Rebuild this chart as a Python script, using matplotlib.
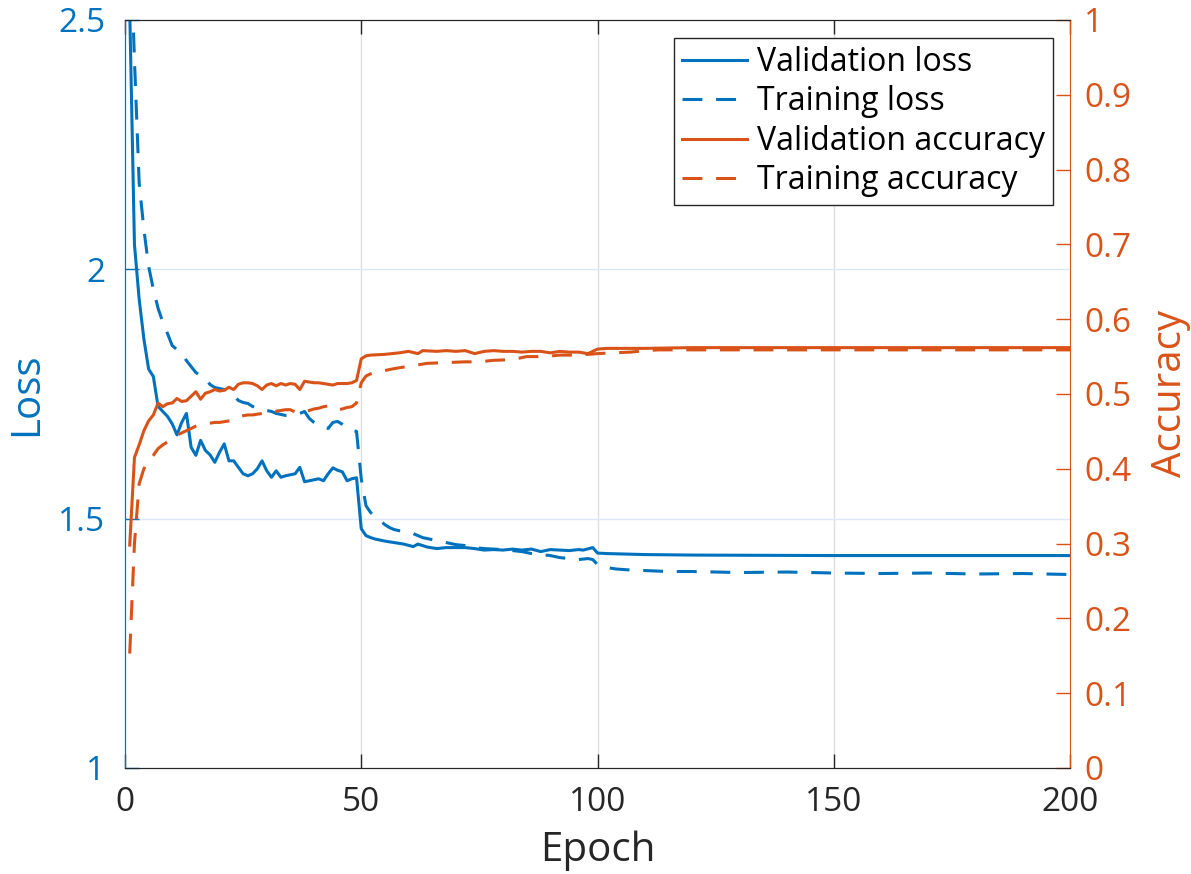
import numpy as np
import matplotlib
matplotlib.use("Agg")
import matplotlib.pyplot as plt
from matplotlib.lines import Line2D

plt.rcParams['font.family'] = ['Open Sans', 'DejaVu Sans']

BLUE = '#0072BD'
ORANGE = '#D95319'
DARK = '#262626'

# --- data (epoch, value) ---
val_loss_ep = list(range(1, 51)) + [51, 52, 53, 55, 57, 59, 61, 62, 64, 66, 68, 70, 72, 74, 76, 78, 80,
                                    82, 84, 86, 88, 90, 92, 94, 96, 97, 99, 100, 102, 106, 110, 120, 150, 200]
val_loss = [2.52, 2.05, 1.94, 1.86, 1.80, 1.785, 1.725, 1.715, 1.705, 1.69,
            1.668, 1.693, 1.711, 1.643, 1.627, 1.657, 1.637, 1.628, 1.613, 1.633,
            1.650, 1.616, 1.616, 1.603, 1.590, 1.586, 1.590, 1.600, 1.616, 1.596,
            1.583, 1.596, 1.583, 1.586, 1.588, 1.590, 1.603, 1.574, 1.576, 1.578,
            1.580, 1.576, 1.590, 1.602, 1.597, 1.594, 1.576, 1.580, 1.582, 1.480,
            1.466, 1.462, 1.459, 1.455, 1.452, 1.449, 1.444, 1.449, 1.443, 1.440,
            1.442, 1.442, 1.442, 1.440, 1.437, 1.438, 1.437, 1.439, 1.437, 1.439,
            1.434, 1.438, 1.437, 1.436, 1.438, 1.437, 1.442, 1.431, 1.430, 1.429,
            1.428, 1.427, 1.426, 1.426]

train_loss_ep = list(range(1, 51)) + [51, 52, 53, 54, 55, 56, 57, 58, 60, 61, 62, 63, 64, 66, 68, 70, 72,
                                      74, 76, 78, 80, 82, 84, 86, 88, 90, 92, 94, 96, 98, 99, 100, 102, 104,
                                      107, 110, 115, 120, 130, 140, 150, 160, 170, 180, 190, 200]
train_loss = [2.70, 2.42, 2.173, 2.08, 2.006, 1.960, 1.922, 1.894, 1.871, 1.847,
              1.839, 1.831, 1.817, 1.805, 1.793, 1.787, 1.781, 1.769, 1.763, 1.761,
              1.759, 1.757, 1.747, 1.737, 1.733, 1.731, 1.725, 1.721, 1.719, 1.717,
              1.715, 1.711, 1.709, 1.707, 1.707, 1.709, 1.711, 1.715, 1.701, 1.693,
              1.687, 1.683, 1.681, 1.693, 1.695, 1.689, 1.681, 1.677, 1.675, 1.580,
              1.526, 1.512, 1.504, 1.496, 1.488, 1.482, 1.478, 1.476, 1.474, 1.470,
              1.466, 1.462, 1.460, 1.456, 1.452, 1.448, 1.446, 1.442, 1.440, 1.439,
              1.438, 1.436, 1.434, 1.430, 1.428, 1.426, 1.422, 1.420, 1.418, 1.420,
              1.418, 1.408, 1.402, 1.399, 1.397, 1.396, 1.394, 1.394, 1.392, 1.393,
              1.391, 1.390, 1.391, 1.389, 1.390, 1.388]

val_acc_ep = list(range(1, 51)) + [51, 52, 55, 58, 60, 62, 63, 66, 68, 70, 72, 74, 76, 78, 80, 82, 84,
                                   86, 88, 90, 92, 94, 96, 98, 100, 102, 105, 110, 120, 200]
val_acc = [0.298, 0.415, 0.432, 0.451, 0.464, 0.472, 0.488, 0.483, 0.487, 0.488,
           0.494, 0.490, 0.491, 0.497, 0.503, 0.493, 0.501, 0.503, 0.506, 0.504,
           0.505, 0.509, 0.506, 0.513, 0.515, 0.515, 0.514, 0.511, 0.506, 0.512,
           0.514, 0.511, 0.514, 0.512, 0.514, 0.513, 0.506, 0.517, 0.516, 0.515,
           0.515, 0.514, 0.513, 0.512, 0.514, 0.514, 0.514, 0.515, 0.518, 0.547,
           0.551, 0.552, 0.553, 0.555, 0.557, 0.554, 0.558, 0.557, 0.558, 0.557,
           0.558, 0.554, 0.557, 0.558, 0.557, 0.557, 0.556, 0.557, 0.557, 0.555,
           0.557, 0.556, 0.556, 0.554, 0.560, 0.561, 0.561, 0.561, 0.562, 0.562]

train_acc_ep = list(range(1, 51)) + [51, 52, 54, 57, 60, 64, 68, 72, 75, 78, 82, 85, 89, 92, 96, 100,
                                     103, 107, 110, 113, 150, 200]
train_acc = [0.153, 0.300, 0.380, 0.400, 0.410, 0.418, 0.427, 0.432, 0.436, 0.441,
             0.445, 0.448, 0.451, 0.454, 0.457, 0.459, 0.460, 0.461, 0.462, 0.462,
             0.463, 0.464, 0.465, 0.469, 0.471, 0.472, 0.472, 0.473, 0.474, 0.474,
             0.476, 0.477, 0.478, 0.479, 0.479, 0.476, 0.477, 0.476, 0.478, 0.480,
             0.481, 0.483, 0.484, 0.480, 0.479, 0.480, 0.482, 0.483, 0.488, 0.515,
             0.524, 0.527, 0.530, 0.534, 0.537, 0.541, 0.542, 0.543, 0.543, 0.545,
             0.546, 0.550, 0.550, 0.552, 0.552, 0.554, 0.555, 0.556, 0.558, 0.559,
             0.559, 0.559]

x_ticks = [0, 50, 100, 150, 200]
loss_ticks = [1, 1.5, 2, 2.5]
acc_ticks = np.round(np.arange(0, 1.01, 0.1), 1)

fig = plt.figure(figsize=(11.91, 8.74), dpi=100)
ax1 = fig.add_axes([125 / 1191, 106 / 874, 945 / 1191, 748 / 874])
ax2 = ax1.twinx()

lw = 2.2
dash = (6.5, 4.5)
ax1.plot(val_loss_ep, val_loss, color=BLUE, lw=lw)
ax1.plot(train_loss_ep, train_loss, color=BLUE, lw=lw, dashes=dash)
ax2.plot(val_acc_ep, val_acc, color=ORANGE, lw=lw)
ax2.plot(train_acc_ep, train_acc, color=ORANGE, lw=lw, dashes=dash)

ax1.set_xlim(0, 200)
ax1.set_ylim(1, 2.5)
ax2.set_ylim(0, 1)
ax1.set_xticks(x_ticks)
ax1.set_yticks(loss_ticks)
ax1.set_yticklabels(['1', '1.5', '2', '2.5'])
ax2.set_yticks(acc_ticks)
ax2.set_yticklabels(['0'] + ['%.1f' % v for v in acc_ticks[1:-1]] + ['1'])

# grid like MATLAB
for xv in x_ticks[1:-1]:
    ax1.axvline(xv, color='#DEDEDE', lw=1.0, zorder=0)
for yv in loss_ticks[1:-1]:
    ax1.axhline(yv, color='#DAE9F5', lw=1.0, zorder=0)

ax1.tick_params(axis='x', direction='in', length=10, width=1, top=True, colors=DARK,
                labelsize=24, pad=13)
ax1.tick_params(axis='y', direction='in', length=10, width=1, colors=BLUE,
                labelsize=24, pad=14)
ax2.tick_params(axis='y', direction='in', length=10, width=1, colors=ORANGE,
                labelsize=24, pad=10)

for sp in ['top', 'bottom']:
    ax1.spines[sp].set_color(DARK)
    ax2.spines[sp].set_color(DARK)
ax1.spines['left'].set_color(BLUE)
ax2.spines['left'].set_color(BLUE)
ax2.spines['right'].set_color(ORANGE)
ax1.spines['right'].set_visible(False)

ax1.set_xlabel('Epoch', fontsize=29, color=DARK, labelpad=8)
ax1.set_ylabel('Loss', fontsize=29, color=BLUE, labelpad=8)
ax2.set_ylabel('Accuracy', fontsize=29, color=ORANGE, labelpad=14)

handles = [
    Line2D([], [], color=BLUE, lw=lw),
    Line2D([], [], color=BLUE, lw=lw, dashes=dash),
    Line2D([], [], color=ORANGE, lw=lw),
    Line2D([], [], color=ORANGE, lw=lw, dashes=dash),
]
labels = ['Validation loss', 'Training loss', 'Validation accuracy', 'Training accuracy']
leg = ax2.legend(handles, labels, loc='upper right', bbox_to_anchor=(0.982, 0.976),
                 borderaxespad=0, fontsize=23, fancybox=False, framealpha=1,
                 edgecolor=DARK, handlelength=2.05, handletextpad=0.3,
                 labelspacing=0.2, borderpad=0.25)
leg.get_frame().set_linewidth(1.0)

fig.savefig('out.png', dpi=100)
